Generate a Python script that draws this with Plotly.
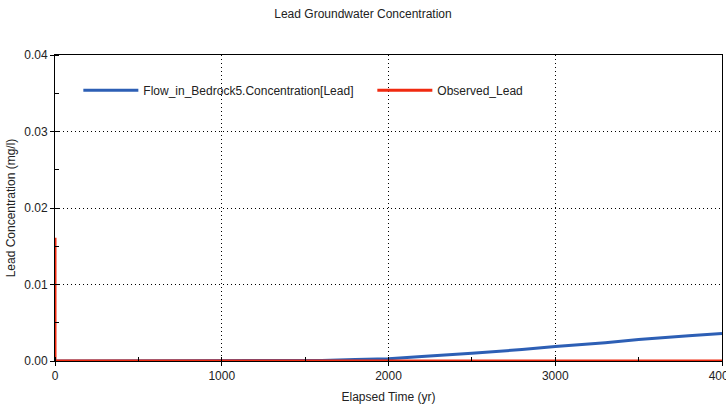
import plotly.graph_objects as go

# Data
model_time = [0, 1500, 1600, 1800, 2000, 2200, 2500, 2800, 3000, 3300, 3500, 3800, 4000]
model_conc = [0, 0, 0.00008, 0.00018, 0.0003, 0.0006, 0.0010, 0.0015, 0.0019, 0.0024, 0.0028, 0.0033, 0.0036]
obs_time = [0, 0, 4000]
obs_conc = [0.0161, 0, 0]

series_names = ["Flow_in_Bedrock5.Concentration[Lead]", "Observed_Lead"]
x_ticks = [0, 1000, 2000, 3000, 4000]
y_ticks = [0.00, 0.01, 0.02, 0.03, 0.04]

font = dict(family="Liberation Sans, Arial, sans-serif", size=12, color="#222")

fig = go.Figure()
fig.add_trace(go.Scatter(x=model_time, y=model_conc, mode="lines", name=series_names[0],
                         line=dict(color="#2d5fb5", width=3), cliponaxis=False))
fig.add_trace(go.Scatter(x=obs_time, y=obs_conc, mode="lines", name=series_names[1],
                         line=dict(color="#f02a10", width=3), cliponaxis=False))

axis_common = dict(showline=True, linecolor="black", linewidth=1, mirror=True,
                   showgrid=True, gridcolor="black", griddash="1px,3px", gridwidth=1,
                   ticks="outside", ticklen=4, tickcolor="black",
                   zeroline=False, automargin=False, ticklabeloverflow="allow",
                   minor=dict(ticks="inside", ticklen=4, tickcolor="black", showgrid=False))

fig.update_xaxes(range=[0, 4000], tickvals=x_ticks, ticktext=[str(v) for v in x_ticks],
                 title=dict(text="Elapsed Time (yr)", standoff=10, font=font),
                 minor_dtick=500, **axis_common)
fig.update_yaxes(range=[0, 0.04], tickvals=y_ticks, ticktext=[f"{v:.2f}" for v in y_ticks],
                 title=dict(text="Lead Concentration (mg/l)", standoff=6, font=font),
                 minor_dtick=0.005, **axis_common)

fig.update_layout(
    width=726, height=409,
    margin=dict(l=55, r=4, t=55, b=48),
    paper_bgcolor="white", plot_bgcolor="white",
    font=font,
    title=dict(text="Lead Groundwater Concentration", x=0.5, xanchor="center",
               y=1 - 14 / 409, yanchor="middle", font=font),
    legend=dict(orientation="h", x=0.035, xanchor="left", y=0.885, yanchor="middle",
                bgcolor="rgba(0,0,0,0)", itemwidth=55, entrywidth=224,
                entrywidthmode="pixels", font=font),
)

fig.write_html(
    "out.html",
    config={"displayModeBar": False},
    post_script="document.body.style.margin='0';document.body.style.overflow='hidden';",
)
